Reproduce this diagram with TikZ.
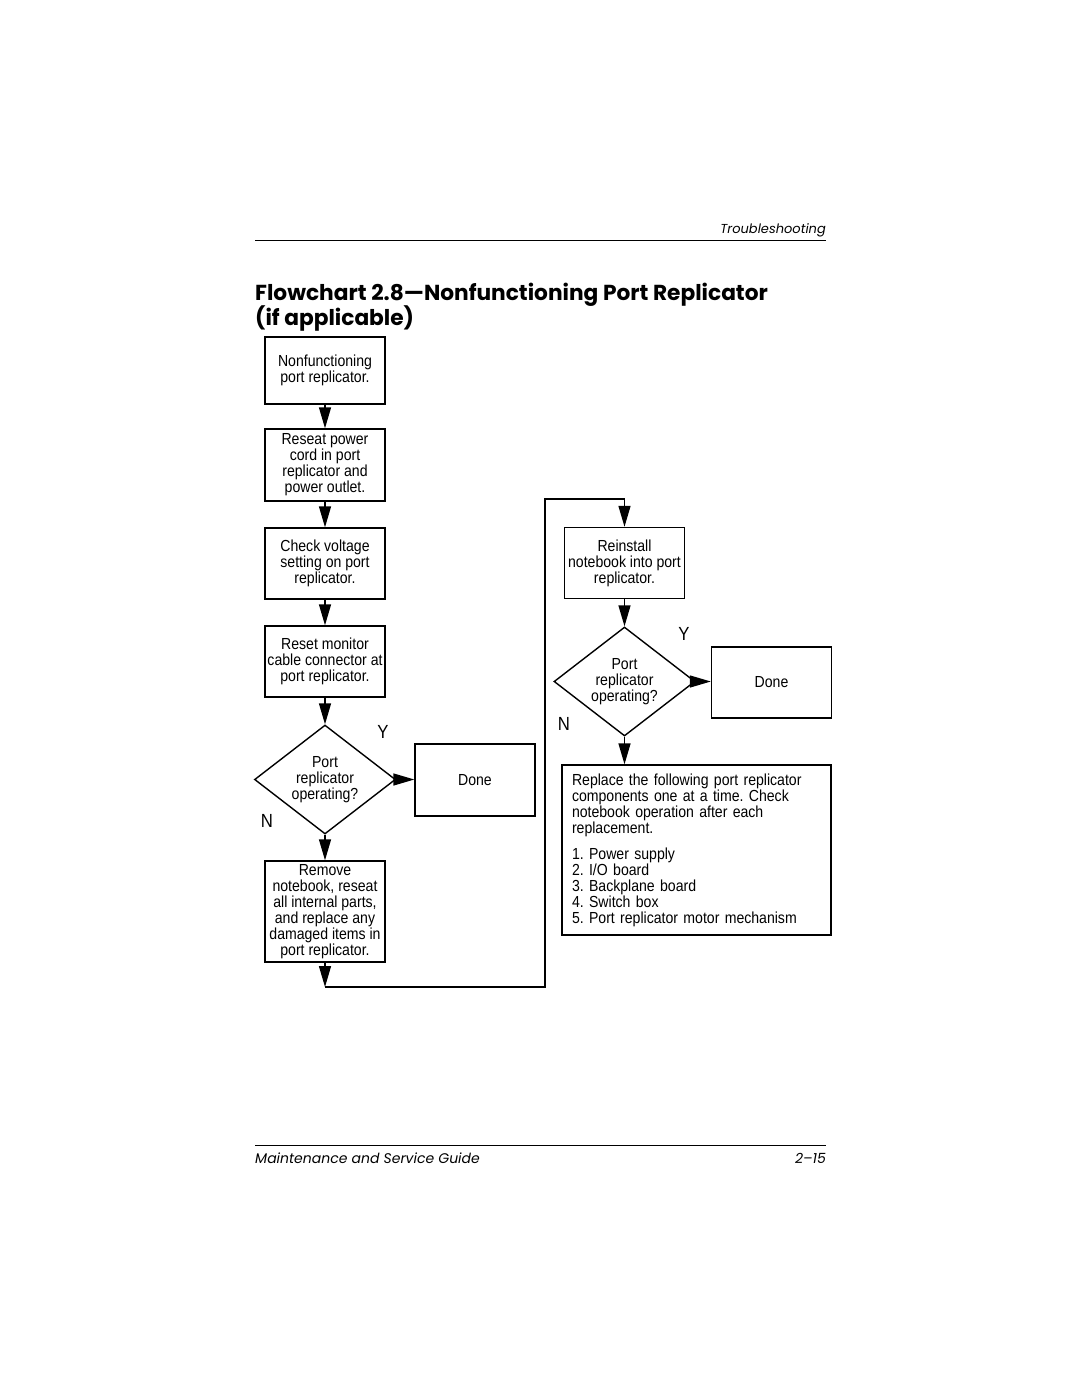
\documentclass[tikz,border=0pt]{standalone}
\usepackage{fontspec}
\setmainfont{Liberation Sans}
\newfontfamily\narrowfont[FakeStretch=0.88]{Liberation Sans}
\newfontfamily\futfont{Poppins}
\usepackage{tikz}
\usetikzlibrary{
  positioning,
  arrows.meta,
  shapes.geometric,
  calc
}
\frenchspacing

\tikzset{
  stepbox/.style={draw, line width=1.4pt, minimum width=120pt, minimum height=71pt,
    inner sep=1pt, align=center, font=\narrowfont\fontsize{16}{16}\selectfont},
  query/.style={draw, diamond, line width=1.4pt, aspect=1.3, minimum width=141pt,
    minimum height=109pt, inner sep=0pt, align=center,
    font=\narrowfont\fontsize{16}{16}\selectfont},
  flow/.style={-{Triangle[length=21pt,width=12pt]}, line width=1.4pt},
  link/.style={line width=1.4pt},
  yn/.style={font=\narrowfont\fontsize{19}{19}\selectfont}
}

\begin{document}
\begin{tikzpicture}[x=1pt, y=-1pt]
  \useasboundingbox (0,0) rectangle (1080,1397);

  % 页眉
  \draw[line width=1pt] (255,240) -- (826,240);
  \node[anchor=base east, inner sep=0pt, font=\futfont\itshape\fontsize{13}{13}\selectfont]
    (runhead) at (826,233) {Troubleshooting};
  % 标题
  \node[anchor=base west, inner sep=0pt, font=\futfont\bfseries\fontsize{21.7}{25}\selectfont]
    (title1) at (255,300) {Flowchart 2.8—Nonfunctioning Port Replicator};
  \node[anchor=base west, inner sep=0pt, font=\futfont\bfseries\fontsize{21.7}{25}\selectfont]
    (title2) at (255,325) {(if applicable)};

  % 左列
  \node[stepbox, minimum height=67pt] (start) at (325,370.5) {Nonfunctioning\\port replicator.};
  \node[stepbox, minimum height=72pt] (reseat) at (325,465) {Reseat power\\cord in port\\replicator and\\power outlet.};
  \node[stepbox] (voltage) at (325,563.5) {Check voltage\\setting on port\\replicator.};
  \node[stepbox] (monitor) at (325,661.5) {Reset monitor\\cable connector at\\port replicator.};
  \node[query] (check1) at (325,779.5) {Port\\replicator\\operating?};
  \node[stepbox, minimum height=72pt] (done1) at (475,780) {Done};
  \node[stepbox, minimum height=101pt] (remove) at (325,911.5)
    {Remove\\notebook, reseat\\all internal parts,\\and replace any\\damaged items in\\port replicator.};
  \node[yn] (y1) at (383,732) {Y};
  \node[yn] (n1) at (267,821) {N};

  \draw[flow] (start) -- (reseat);
  \draw[flow] (reseat) -- (voltage);
  \draw[flow] (voltage) -- (monitor);
  \draw[flow] (monitor) -- (check1);
  \draw[flow] (check1.east) -- (check1.east -| done1.west);
  \draw[flow] (check1) -- (remove);

  % 回到右列
  \coordinate (loopA) at (325,987);
  \coordinate (loopB) at (545,499);
  \coordinate (loopC) at (624.5,499);
  \draw[flow] (remove) -- (loopA);
  \draw[link] (loopA) -| (loopB) -- (loopC);

  % 右列
  \node[stepbox] (reinstall) at (624.5,563) {Reinstall\\notebook into port\\replicator.};
  \node[query] (check2) at (624.5,681.5) {Port\\replicator\\operating?};
  \node[stepbox] (done2) at (771.5,682.5) {Done};
  \node[stepbox, minimum width=269pt, minimum height=170pt, text width=249pt, align=left]
    (replace) at (696.5,850)
    {Replace the following port replicator\\components one at a time. Check\\notebook operation after each\\replacement.\\[10pt]
     1. Power supply\\2. I/O board\\3. Backplane board\\4. Switch box\\5. Port replicator motor mechanism};
  \node[yn] (y2) at (684,634) {Y};
  \node[yn] (n2) at (564,724) {N};

  \draw[flow] (loopC) -- (reinstall);
  \draw[flow] (reinstall) -- (check2);
  \draw[flow] (check2.east) -- (check2.east -| done2.west);
  \draw[flow] (check2.south) -- (check2.south |- replace.north);

  % 页脚
  \draw[line width=1pt] (255,1145) -- (826,1145);
  \node[anchor=base west, inner sep=0pt, font=\futfont\itshape\fontsize{14}{14}\selectfont]
    (foot1) at (255,1163) {Maintenance and Service Guide};
  \node[anchor=base east, inner sep=0pt, font=\futfont\itshape\fontsize{14}{14}\selectfont]
    (foot2) at (826,1163) {2–15};
\end{tikzpicture}
\end{document}
